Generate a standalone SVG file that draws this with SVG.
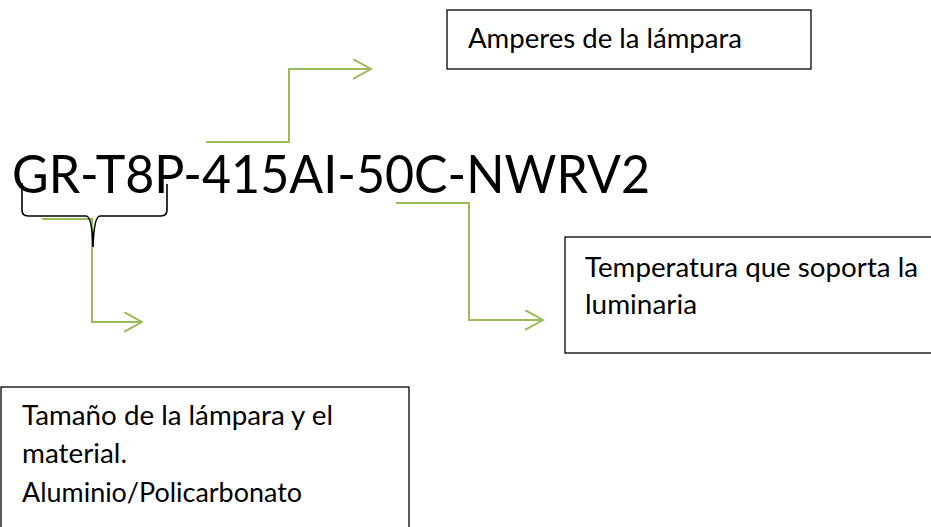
<svg xmlns="http://www.w3.org/2000/svg" width="931" height="527" viewBox="0 0 931 527">
<defs>
<style>
.box{fill:#fff;stroke:#000;stroke-width:1.3}
.t{font-family:Lato,"Open Sans",sans-serif;font-size:26px;fill:#000}
.big{font-family:Lato,"Open Sans",sans-serif;font-size:53px;fill:#000}
.c{fill:none;stroke:#9bbb59;stroke-width:2;marker-end:url(#arr)}
.brace{fill:none;stroke:#000;stroke-width:1.6}
</style>
<marker id="arr" markerWidth="20" markerHeight="22" refX="18" refY="10" orient="auto" markerUnits="userSpaceOnUse">
<path d="M0,0 L18,10 L0,20" fill="none" stroke="#9bbb59" stroke-width="2"/>
</marker>
</defs>
<rect width="931" height="527" fill="#fff"/>
<g id="code">
<text class="big" x="12" y="193" textLength="638" lengthAdjust="spacingAndGlyphs">GR-T8P-415AI-50C-NWRV2</text>
</g>
<g id="connectors">
<path class="c" d="M206,142 H289 V69 H371"/>
<path class="c" d="M396,203 H469 V320 H543"/>
<path class="c" d="M42,219 H92 V322 H142"/>
</g>
<g id="brace">
<path class="brace" d="M22,183 V210 Q22,216 28,216 H86 Q92,216 93,247 Q94,216 100,216 H161 Q167,216 167,210 V184"/>
</g>
<g id="amperes">
<rect class="box" x="447" y="10" width="364" height="59"/>
<text class="t" x="468" y="48" textLength="274" lengthAdjust="spacingAndGlyphs">Amperes de la lámpara</text>
</g>
<g id="temperatura">
<rect class="box" x="565" y="237" width="380" height="116"/>
<text class="t" x="585" y="277" textLength="333" lengthAdjust="spacingAndGlyphs">Temperatura que soporta la</text>
<text class="t" x="585" y="314" textLength="112" lengthAdjust="spacingAndGlyphs">luminaria</text>
</g>
<g id="tamano">
<rect class="box" x="1" y="387" width="408" height="160"/>
<text class="t" x="22" y="425" textLength="311" lengthAdjust="spacingAndGlyphs">Tamaño de la lámpara y el</text>
<text class="t" x="22" y="463" textLength="105" lengthAdjust="spacingAndGlyphs">material.</text>
<text class="t" x="22" y="502" textLength="280" lengthAdjust="spacingAndGlyphs">Aluminio/Policarbonato</text>
</g>
</svg>
